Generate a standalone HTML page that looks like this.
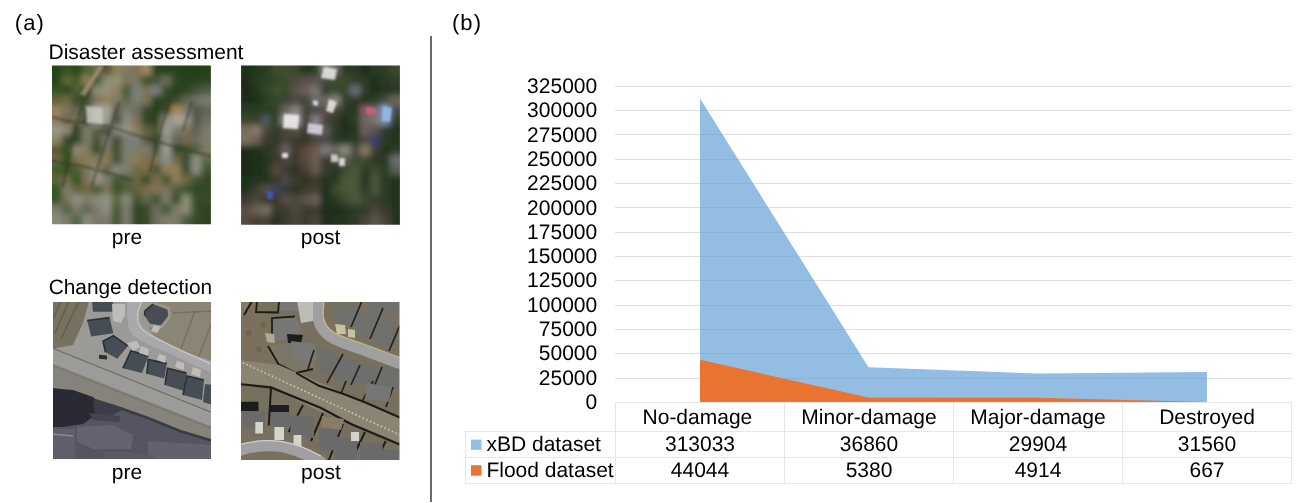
<!DOCTYPE html>
<html><head><meta charset="utf-8"><title>Figure</title>
<style>
html,body{margin:0;padding:0;background:#fff;width:1299px;height:503px;overflow:hidden}
svg{position:absolute;left:0;top:0;display:block;will-change:transform}
text{font-family:"Liberation Sans",Arial,sans-serif;font-size:21px;fill:#000;text-rendering:geometricPrecision}
</style></head><body>
<svg width="1299" height="503" viewBox="0 0 1299 503">
<defs><filter id="soft" x="-5%" y="-5%" width="110%" height="110%"><feGaussianBlur stdDeviation="0.7"/></filter><filter id="soft2" x="-5%" y="-5%" width="110%" height="110%"><feGaussianBlur stdDeviation="1.1"/></filter></defs>
<!-- panel (a) -->
<text x="14.85" y="29.7" style="font-size:22px;letter-spacing:1.1px">(a)</text>
<text x="48.5" y="58.5">Disaster assessment</text>
<g id="img1"><filter id="bl1" x="-20%" y="-20%" width="140%" height="140%"><feGaussianBlur stdDeviation="3.2"/></filter>
<clipPath id="c1"><rect x="52" y="65.5" width="158.9" height="158.7"/></clipPath>
<g clip-path="url(#c1)"><g filter="url(#bl1)">
<rect x="40.00" y="53.50" width="22.43" height="22.42" fill="#234616"/>
<rect x="61.93" y="53.50" width="10.43" height="22.42" fill="#31551e"/>
<rect x="71.86" y="53.50" width="10.43" height="22.42" fill="#27461a"/>
<rect x="81.79" y="53.50" width="10.43" height="22.42" fill="#506234"/>
<rect x="91.72" y="53.50" width="10.43" height="22.42" fill="#6f6f4a"/>
<rect x="101.66" y="53.50" width="10.43" height="22.42" fill="#525235"/>
<rect x="111.59" y="53.50" width="10.43" height="22.42" fill="#8e8057"/>
<rect x="121.52" y="53.50" width="10.43" height="22.42" fill="#7c7c60"/>
<rect x="131.45" y="53.50" width="10.43" height="22.42" fill="#7d7258"/>
<rect x="141.38" y="53.50" width="10.43" height="22.42" fill="#a18a5c"/>
<rect x="151.31" y="53.50" width="10.43" height="22.42" fill="#27411c"/>
<rect x="161.24" y="53.50" width="10.43" height="22.42" fill="#23401a"/>
<rect x="171.18" y="53.50" width="10.43" height="22.42" fill="#27431e"/>
<rect x="181.11" y="53.50" width="10.43" height="22.42" fill="#234018"/>
<rect x="191.04" y="53.50" width="10.43" height="22.42" fill="#234018"/>
<rect x="200.97" y="53.50" width="22.43" height="22.42" fill="#27431c"/>
<rect x="40.00" y="75.42" width="22.43" height="10.42" fill="#234418"/>
<rect x="61.93" y="75.42" width="10.43" height="10.42" fill="#61653b"/>
<rect x="71.86" y="75.42" width="10.43" height="10.42" fill="#425827"/>
<rect x="81.79" y="75.42" width="10.43" height="10.42" fill="#8e825c"/>
<rect x="91.72" y="75.42" width="10.43" height="10.42" fill="#415330"/>
<rect x="101.66" y="75.42" width="10.43" height="10.42" fill="#8c8c75"/>
<rect x="111.59" y="75.42" width="10.43" height="10.42" fill="#92927a"/>
<rect x="121.52" y="75.42" width="10.43" height="10.42" fill="#7d725a"/>
<rect x="131.45" y="75.42" width="10.43" height="10.42" fill="#7c7660"/>
<rect x="141.38" y="75.42" width="10.43" height="10.42" fill="#364a27"/>
<rect x="151.31" y="75.42" width="10.43" height="10.42" fill="#455235"/>
<rect x="161.24" y="75.42" width="10.43" height="10.42" fill="#6d6d5c"/>
<rect x="171.18" y="75.42" width="10.43" height="10.42" fill="#2d4322"/>
<rect x="181.11" y="75.42" width="10.43" height="10.42" fill="#23401a"/>
<rect x="191.04" y="75.42" width="10.43" height="10.42" fill="#27411e"/>
<rect x="200.97" y="75.42" width="22.43" height="10.42" fill="#2d4322"/>
<rect x="40.00" y="85.34" width="22.43" height="10.42" fill="#31551e"/>
<rect x="61.93" y="85.34" width="10.43" height="10.42" fill="#27461a"/>
<rect x="71.86" y="85.34" width="10.43" height="10.42" fill="#515e34"/>
<rect x="81.79" y="85.34" width="10.43" height="10.42" fill="#324825"/>
<rect x="91.72" y="85.34" width="10.43" height="10.42" fill="#8c8c75"/>
<rect x="101.66" y="85.34" width="10.43" height="10.42" fill="#92927a"/>
<rect x="111.59" y="85.34" width="10.43" height="10.42" fill="#8e8163"/>
<rect x="121.52" y="85.34" width="10.43" height="10.42" fill="#41592d"/>
<rect x="131.45" y="85.34" width="10.43" height="10.42" fill="#798176"/>
<rect x="141.38" y="85.34" width="10.43" height="10.42" fill="#7d7258"/>
<rect x="151.31" y="85.34" width="10.43" height="10.42" fill="#788080"/>
<rect x="161.24" y="85.34" width="10.43" height="10.42" fill="#324825"/>
<rect x="171.18" y="85.34" width="10.43" height="10.42" fill="#27411e"/>
<rect x="181.11" y="85.34" width="10.43" height="10.42" fill="#2d4322"/>
<rect x="191.04" y="85.34" width="10.43" height="10.42" fill="#405235"/>
<rect x="200.97" y="85.34" width="22.43" height="10.42" fill="#4f5a44"/>
<rect x="40.00" y="95.26" width="22.43" height="10.42" fill="#61613c"/>
<rect x="61.93" y="95.26" width="10.43" height="10.42" fill="#706946"/>
<rect x="71.86" y="95.26" width="10.43" height="10.42" fill="#324823"/>
<rect x="81.79" y="95.26" width="10.43" height="10.42" fill="#41532e"/>
<rect x="91.72" y="95.26" width="10.43" height="10.42" fill="#7d7258"/>
<rect x="101.66" y="95.26" width="10.43" height="10.42" fill="#957b55"/>
<rect x="111.59" y="95.26" width="10.43" height="10.42" fill="#7c7c69"/>
<rect x="121.52" y="95.26" width="10.43" height="10.42" fill="#5f654b"/>
<rect x="131.45" y="95.26" width="10.43" height="10.42" fill="#797e76"/>
<rect x="141.38" y="95.26" width="10.43" height="10.42" fill="#7e7354"/>
<rect x="151.31" y="95.26" width="10.43" height="10.42" fill="#27411e"/>
<rect x="161.24" y="95.26" width="10.43" height="10.42" fill="#2d4322"/>
<rect x="171.18" y="95.26" width="10.43" height="10.42" fill="#324825"/>
<rect x="181.11" y="95.26" width="10.43" height="10.42" fill="#5e6351"/>
<rect x="191.04" y="95.26" width="10.43" height="10.42" fill="#6c7261"/>
<rect x="200.97" y="95.26" width="22.43" height="10.42" fill="#7b7b6f"/>
<rect x="40.00" y="105.17" width="22.43" height="10.42" fill="#96825a"/>
<rect x="61.93" y="105.17" width="10.43" height="10.42" fill="#7d7258"/>
<rect x="71.86" y="105.17" width="10.43" height="10.42" fill="#5f634b"/>
<rect x="81.79" y="105.17" width="10.43" height="10.42" fill="#51573d"/>
<rect x="91.72" y="105.17" width="10.43" height="10.42" fill="#acac9f"/>
<rect x="101.66" y="105.17" width="10.43" height="10.42" fill="#a5a598"/>
<rect x="111.59" y="105.17" width="10.43" height="10.42" fill="#5f5f4d"/>
<rect x="121.52" y="105.17" width="10.43" height="10.42" fill="#7b7b6f"/>
<rect x="131.45" y="105.17" width="10.43" height="10.42" fill="#6d6d5a"/>
<rect x="141.38" y="105.17" width="10.43" height="10.42" fill="#334425"/>
<rect x="151.31" y="105.17" width="10.43" height="10.42" fill="#273f1c"/>
<rect x="161.24" y="105.17" width="10.43" height="10.42" fill="#324825"/>
<rect x="171.18" y="105.17" width="10.43" height="10.42" fill="#ab8859"/>
<rect x="181.11" y="105.17" width="10.43" height="10.42" fill="#7b7b6f"/>
<rect x="191.04" y="105.17" width="10.43" height="10.42" fill="#505645"/>
<rect x="200.97" y="105.17" width="22.43" height="10.42" fill="#5e6453"/>
<rect x="40.00" y="115.09" width="22.43" height="10.42" fill="#8e7b5c"/>
<rect x="61.93" y="115.09" width="10.43" height="10.42" fill="#6f644a"/>
<rect x="71.86" y="115.09" width="10.43" height="10.42" fill="#7d7258"/>
<rect x="81.79" y="115.09" width="10.43" height="10.42" fill="#424731"/>
<rect x="91.72" y="115.09" width="10.43" height="10.42" fill="#b3b3a5"/>
<rect x="101.66" y="115.09" width="10.43" height="10.42" fill="#9e9e91"/>
<rect x="111.59" y="115.09" width="10.43" height="10.42" fill="#424837"/>
<rect x="121.52" y="115.09" width="10.43" height="10.42" fill="#8a8a7c"/>
<rect x="131.45" y="115.09" width="10.43" height="10.42" fill="#7d7258"/>
<rect x="141.38" y="115.09" width="10.43" height="10.42" fill="#2d4322"/>
<rect x="151.31" y="115.09" width="10.43" height="10.42" fill="#2d4322"/>
<rect x="161.24" y="115.09" width="10.43" height="10.42" fill="#8f8f83"/>
<rect x="171.18" y="115.09" width="10.43" height="10.42" fill="#a5a598"/>
<rect x="181.11" y="115.09" width="10.43" height="10.42" fill="#9e9e91"/>
<rect x="191.04" y="115.09" width="10.43" height="10.42" fill="#505645"/>
<rect x="200.97" y="115.09" width="22.43" height="10.42" fill="#6d6d5f"/>
<rect x="40.00" y="125.01" width="22.43" height="10.42" fill="#96968a"/>
<rect x="61.93" y="125.01" width="10.43" height="10.42" fill="#8d8a73"/>
<rect x="71.86" y="125.01" width="10.43" height="10.42" fill="#324427"/>
<rect x="81.79" y="125.01" width="10.43" height="10.42" fill="#7c7c69"/>
<rect x="91.72" y="125.01" width="10.43" height="10.42" fill="#5f5f4d"/>
<rect x="101.66" y="125.01" width="10.43" height="10.42" fill="#424837"/>
<rect x="111.59" y="125.01" width="10.43" height="10.42" fill="#8a8a7c"/>
<rect x="121.52" y="125.01" width="10.43" height="10.42" fill="#96968a"/>
<rect x="131.45" y="125.01" width="10.43" height="10.42" fill="#8e7c57"/>
<rect x="141.38" y="125.01" width="10.43" height="10.42" fill="#606044"/>
<rect x="151.31" y="125.01" width="10.43" height="10.42" fill="#41532e"/>
<rect x="161.24" y="125.01" width="10.43" height="10.42" fill="#9e9e91"/>
<rect x="171.18" y="125.01" width="10.43" height="10.42" fill="#7b7b6f"/>
<rect x="181.11" y="125.01" width="10.43" height="10.42" fill="#7d7258"/>
<rect x="191.04" y="125.01" width="10.43" height="10.42" fill="#5e6453"/>
<rect x="200.97" y="125.01" width="22.43" height="10.42" fill="#7b7b6f"/>
<rect x="40.00" y="134.93" width="22.43" height="10.42" fill="#8e866a"/>
<rect x="61.93" y="134.93" width="10.43" height="10.42" fill="#334425"/>
<rect x="71.86" y="134.93" width="10.43" height="10.42" fill="#324427"/>
<rect x="81.79" y="134.93" width="10.43" height="10.42" fill="#7c7c69"/>
<rect x="91.72" y="134.93" width="10.43" height="10.42" fill="#415330"/>
<rect x="101.66" y="134.93" width="10.43" height="10.42" fill="#7b7b6f"/>
<rect x="111.59" y="134.93" width="10.43" height="10.42" fill="#424837"/>
<rect x="121.52" y="134.93" width="10.43" height="10.42" fill="#7b7b6f"/>
<rect x="131.45" y="134.93" width="10.43" height="10.42" fill="#788080"/>
<rect x="141.38" y="134.93" width="10.43" height="10.42" fill="#605a44"/>
<rect x="151.31" y="134.93" width="10.43" height="10.42" fill="#324427"/>
<rect x="161.24" y="134.93" width="10.43" height="10.42" fill="#8f8f83"/>
<rect x="171.18" y="134.93" width="10.43" height="10.42" fill="#5e6453"/>
<rect x="181.11" y="134.93" width="10.43" height="10.42" fill="#6f694a"/>
<rect x="191.04" y="134.93" width="10.43" height="10.42" fill="#6c6c61"/>
<rect x="200.97" y="134.93" width="22.43" height="10.42" fill="#7b7b6f"/>
<rect x="40.00" y="144.85" width="22.43" height="10.42" fill="#515c34"/>
<rect x="61.93" y="144.85" width="10.43" height="10.42" fill="#334b1f"/>
<rect x="71.86" y="144.85" width="10.43" height="10.42" fill="#8d8d73"/>
<rect x="81.79" y="144.85" width="10.43" height="10.42" fill="#7c7c60"/>
<rect x="91.72" y="144.85" width="10.43" height="10.42" fill="#334b1f"/>
<rect x="101.66" y="144.85" width="10.43" height="10.42" fill="#7c7860"/>
<rect x="111.59" y="144.85" width="10.43" height="10.42" fill="#415330"/>
<rect x="121.52" y="144.85" width="10.43" height="10.42" fill="#7a826e"/>
<rect x="131.45" y="144.85" width="10.43" height="10.42" fill="#7c7c67"/>
<rect x="141.38" y="144.85" width="10.43" height="10.42" fill="#7c7c69"/>
<rect x="151.31" y="144.85" width="10.43" height="10.42" fill="#51553d"/>
<rect x="161.24" y="144.85" width="10.43" height="10.42" fill="#9e9e91"/>
<rect x="171.18" y="144.85" width="10.43" height="10.42" fill="#324825"/>
<rect x="181.11" y="144.85" width="10.43" height="10.42" fill="#41532e"/>
<rect x="191.04" y="144.85" width="10.43" height="10.42" fill="#505d3c"/>
<rect x="200.97" y="144.85" width="22.43" height="10.42" fill="#7c7c60"/>
<rect x="40.00" y="154.77" width="22.43" height="10.42" fill="#706542"/>
<rect x="61.93" y="154.77" width="10.43" height="10.42" fill="#355422"/>
<rect x="71.86" y="154.77" width="10.43" height="10.42" fill="#7e7152"/>
<rect x="81.79" y="154.77" width="10.43" height="10.42" fill="#8e7c55"/>
<rect x="91.72" y="154.77" width="10.43" height="10.42" fill="#7c7c67"/>
<rect x="101.66" y="154.77" width="10.43" height="10.42" fill="#8e7c57"/>
<rect x="111.59" y="154.77" width="10.43" height="10.42" fill="#424b2e"/>
<rect x="121.52" y="154.77" width="10.43" height="10.42" fill="#7c7c69"/>
<rect x="131.45" y="154.77" width="10.43" height="10.42" fill="#8e7c55"/>
<rect x="141.38" y="154.77" width="10.43" height="10.42" fill="#7f6d4a"/>
<rect x="151.31" y="154.77" width="10.43" height="10.42" fill="#7d7258"/>
<rect x="161.24" y="154.77" width="10.43" height="10.42" fill="#868f8f"/>
<rect x="171.18" y="154.77" width="10.43" height="10.42" fill="#6f694a"/>
<rect x="181.11" y="154.77" width="10.43" height="10.42" fill="#324825"/>
<rect x="191.04" y="154.77" width="10.43" height="10.42" fill="#8f8f83"/>
<rect x="200.97" y="154.77" width="22.43" height="10.42" fill="#5f654b"/>
<rect x="40.00" y="164.69" width="22.43" height="10.42" fill="#425a25"/>
<rect x="61.93" y="164.69" width="10.43" height="10.42" fill="#31551e"/>
<rect x="71.86" y="164.69" width="10.43" height="10.42" fill="#515c34"/>
<rect x="81.79" y="164.69" width="10.43" height="10.42" fill="#7d7758"/>
<rect x="91.72" y="164.69" width="10.43" height="10.42" fill="#8d8d73"/>
<rect x="101.66" y="164.69" width="10.43" height="10.42" fill="#5f5f4b"/>
<rect x="111.59" y="164.69" width="10.43" height="10.42" fill="#8a8a7c"/>
<rect x="121.52" y="164.69" width="10.43" height="10.42" fill="#7a7f72"/>
<rect x="131.45" y="164.69" width="10.43" height="10.42" fill="#706946"/>
<rect x="141.38" y="164.69" width="10.43" height="10.42" fill="#7f6d4a"/>
<rect x="151.31" y="164.69" width="10.43" height="10.42" fill="#41532e"/>
<rect x="161.24" y="164.69" width="10.43" height="10.42" fill="#8e7c55"/>
<rect x="171.18" y="164.69" width="10.43" height="10.42" fill="#968056"/>
<rect x="181.11" y="164.69" width="10.43" height="10.42" fill="#324825"/>
<rect x="191.04" y="164.69" width="10.43" height="10.42" fill="#8f8f83"/>
<rect x="200.97" y="164.69" width="22.43" height="10.42" fill="#41532e"/>
<rect x="40.00" y="174.61" width="22.43" height="10.42" fill="#61653b"/>
<rect x="61.93" y="174.61" width="10.43" height="10.42" fill="#6f694a"/>
<rect x="71.86" y="174.61" width="10.43" height="10.42" fill="#355422"/>
<rect x="81.79" y="174.61" width="10.43" height="10.42" fill="#7d7258"/>
<rect x="91.72" y="174.61" width="10.43" height="10.42" fill="#96968a"/>
<rect x="101.66" y="174.61" width="10.43" height="10.42" fill="#7c7c69"/>
<rect x="111.59" y="174.61" width="10.43" height="10.42" fill="#41572d"/>
<rect x="121.52" y="174.61" width="10.43" height="10.42" fill="#4f613c"/>
<rect x="131.45" y="174.61" width="10.43" height="10.42" fill="#706542"/>
<rect x="141.38" y="174.61" width="10.43" height="10.42" fill="#364a27"/>
<rect x="151.31" y="174.61" width="10.43" height="10.42" fill="#7f6d4a"/>
<rect x="161.24" y="174.61" width="10.43" height="10.42" fill="#41532e"/>
<rect x="171.18" y="174.61" width="10.43" height="10.42" fill="#8e7c55"/>
<rect x="181.11" y="174.61" width="10.43" height="10.42" fill="#706946"/>
<rect x="191.04" y="174.61" width="10.43" height="10.42" fill="#415330"/>
<rect x="200.97" y="174.61" width="22.43" height="10.42" fill="#364a27"/>
<rect x="40.00" y="184.52" width="22.43" height="10.42" fill="#355422"/>
<rect x="61.93" y="184.52" width="10.43" height="10.42" fill="#7c7c67"/>
<rect x="71.86" y="184.52" width="10.43" height="10.42" fill="#61653b"/>
<rect x="81.79" y="184.52" width="10.43" height="10.42" fill="#706946"/>
<rect x="91.72" y="184.52" width="10.43" height="10.42" fill="#415729"/>
<rect x="101.66" y="184.52" width="10.43" height="10.42" fill="#7d725a"/>
<rect x="111.59" y="184.52" width="10.43" height="10.42" fill="#355422"/>
<rect x="121.52" y="184.52" width="10.43" height="10.42" fill="#4f613c"/>
<rect x="131.45" y="184.52" width="10.43" height="10.42" fill="#61613c"/>
<rect x="141.38" y="184.52" width="10.43" height="10.42" fill="#7f6d4a"/>
<rect x="151.31" y="184.52" width="10.43" height="10.42" fill="#7d7258"/>
<rect x="161.24" y="184.52" width="10.43" height="10.42" fill="#7d725a"/>
<rect x="171.18" y="184.52" width="10.43" height="10.42" fill="#505b3c"/>
<rect x="181.11" y="184.52" width="10.43" height="10.42" fill="#41532e"/>
<rect x="191.04" y="184.52" width="10.43" height="10.42" fill="#324825"/>
<rect x="200.97" y="184.52" width="22.43" height="10.42" fill="#364a27"/>
<rect x="40.00" y="194.44" width="22.43" height="10.42" fill="#355422"/>
<rect x="61.93" y="194.44" width="10.43" height="10.42" fill="#7d7458"/>
<rect x="71.86" y="194.44" width="10.43" height="10.42" fill="#8f8f83"/>
<rect x="81.79" y="194.44" width="10.43" height="10.42" fill="#7c7c69"/>
<rect x="91.72" y="194.44" width="10.43" height="10.42" fill="#8a8a7c"/>
<rect x="101.66" y="194.44" width="10.43" height="10.42" fill="#8f8f83"/>
<rect x="111.59" y="194.44" width="10.43" height="10.42" fill="#5f6643"/>
<rect x="121.52" y="194.44" width="10.43" height="10.42" fill="#8a8a7c"/>
<rect x="131.45" y="194.44" width="10.43" height="10.42" fill="#41532e"/>
<rect x="141.38" y="194.44" width="10.43" height="10.42" fill="#5f654b"/>
<rect x="151.31" y="194.44" width="10.43" height="10.42" fill="#41532e"/>
<rect x="161.24" y="194.44" width="10.43" height="10.42" fill="#7c7c67"/>
<rect x="171.18" y="194.44" width="10.43" height="10.42" fill="#324825"/>
<rect x="181.11" y="194.44" width="10.43" height="10.42" fill="#8c8c75"/>
<rect x="191.04" y="194.44" width="10.43" height="10.42" fill="#364a27"/>
<rect x="200.97" y="194.44" width="22.43" height="10.42" fill="#364a27"/>
<rect x="40.00" y="204.36" width="22.43" height="10.42" fill="#7c7c69"/>
<rect x="61.93" y="204.36" width="10.43" height="10.42" fill="#4f613c"/>
<rect x="71.86" y="204.36" width="10.43" height="10.42" fill="#7c7c67"/>
<rect x="81.79" y="204.36" width="10.43" height="10.42" fill="#5f634d"/>
<rect x="91.72" y="204.36" width="10.43" height="10.42" fill="#7c7c69"/>
<rect x="101.66" y="204.36" width="10.43" height="10.42" fill="#8f8f83"/>
<rect x="111.59" y="204.36" width="10.43" height="10.42" fill="#41572d"/>
<rect x="121.52" y="204.36" width="10.43" height="10.42" fill="#7b7b6d"/>
<rect x="131.45" y="204.36" width="10.43" height="10.42" fill="#2d4322"/>
<rect x="141.38" y="204.36" width="10.43" height="10.42" fill="#364a27"/>
<rect x="151.31" y="204.36" width="10.43" height="10.42" fill="#6d6d5a"/>
<rect x="161.24" y="204.36" width="10.43" height="10.42" fill="#41532e"/>
<rect x="171.18" y="204.36" width="10.43" height="10.42" fill="#7c7c69"/>
<rect x="181.11" y="204.36" width="10.43" height="10.42" fill="#8c8c75"/>
<rect x="191.04" y="204.36" width="10.43" height="10.42" fill="#364a27"/>
<rect x="200.97" y="204.36" width="22.43" height="10.42" fill="#2d4322"/>
<rect x="40.00" y="214.28" width="22.43" height="22.42" fill="#8a8a7c"/>
<rect x="61.93" y="214.28" width="10.43" height="22.42" fill="#7c7c69"/>
<rect x="71.86" y="214.28" width="10.43" height="22.42" fill="#4f613c"/>
<rect x="81.79" y="214.28" width="10.43" height="22.42" fill="#8a8a7c"/>
<rect x="91.72" y="214.28" width="10.43" height="22.42" fill="#7c7860"/>
<rect x="101.66" y="214.28" width="10.43" height="22.42" fill="#7c7c69"/>
<rect x="111.59" y="214.28" width="10.43" height="22.42" fill="#41572d"/>
<rect x="121.52" y="214.28" width="10.43" height="22.42" fill="#7b7b6d"/>
<rect x="131.45" y="214.28" width="10.43" height="22.42" fill="#2d4322"/>
<rect x="141.38" y="214.28" width="10.43" height="22.42" fill="#364a27"/>
<rect x="151.31" y="214.28" width="10.43" height="22.42" fill="#6d6d5a"/>
<rect x="161.24" y="214.28" width="10.43" height="22.42" fill="#7c7c69"/>
<rect x="171.18" y="214.28" width="10.43" height="22.42" fill="#7c7c69"/>
<rect x="181.11" y="214.28" width="10.43" height="22.42" fill="#505b3c"/>
<rect x="191.04" y="214.28" width="10.43" height="22.42" fill="#364a27"/>
<rect x="200.97" y="214.28" width="22.43" height="22.42" fill="#2d4322"/>
</g>
<g transform="translate(52,66)" filter="url(#soft2)">
<g stroke="#2c3422" stroke-width="2.8" fill="none" opacity="0.42" stroke-linecap="round">
<polyline points="52,0 45,10 38,22 31,36 27,50 23,64 19,80 15,100 11,120"/>
<polyline points="0,51 16,55.5 32,56 51,59 67,63.5 80,68 100,74 120,80 158,90"/>
<polyline points="67,36.6 59,60.4 52.5,80 46,100 40,120"/>
<polyline points="118.7,31.8 111,56 104.4,80 98,105"/>
<polyline points="139.4,36.6 131.5,63.6"/>
<polyline points="0,95 30,100 60,108 80,114"/>
</g>
<g opacity="0.8">
<polygon points="47,0 52,0 33,30 28,28" fill="#a49474"/>
<polygon points="34,40 50,42 51,58 35,57" fill="#c8c8c2"/>
</g>
</g>

</g></g><!--/img1-->
<g id="img2"><filter id="bl2" x="-20%" y="-20%" width="140%" height="140%"><feGaussianBlur stdDeviation="3.0"/></filter>
<clipPath id="c2"><rect x="241.1" y="65.5" width="158.8" height="159.2"/></clipPath>
<g clip-path="url(#c2)"><g filter="url(#bl2)">
<rect x="229.10" y="53.50" width="22.43" height="22.45" fill="#1e3018"/>
<rect x="251.03" y="53.50" width="10.43" height="22.45" fill="#24381e"/>
<rect x="260.95" y="53.50" width="10.43" height="22.45" fill="#2a3e22"/>
<rect x="270.88" y="53.50" width="10.43" height="22.45" fill="#3a4c2e"/>
<rect x="280.80" y="53.50" width="10.43" height="22.45" fill="#3e5030"/>
<rect x="290.73" y="53.50" width="10.43" height="22.45" fill="#3a4a2c"/>
<rect x="300.65" y="53.50" width="10.43" height="22.45" fill="#22381c"/>
<rect x="310.57" y="53.50" width="10.43" height="22.45" fill="#2a3e22"/>
<rect x="320.50" y="53.50" width="10.43" height="22.45" fill="#8a8a88"/>
<rect x="330.43" y="53.50" width="10.43" height="22.45" fill="#6a6a60"/>
<rect x="340.35" y="53.50" width="10.43" height="22.45" fill="#2a3a22"/>
<rect x="350.27" y="53.50" width="10.43" height="22.45" fill="#2a3a22"/>
<rect x="360.20" y="53.50" width="10.43" height="22.45" fill="#1e2e1a"/>
<rect x="370.12" y="53.50" width="10.43" height="22.45" fill="#2a3a22"/>
<rect x="380.05" y="53.50" width="10.43" height="22.45" fill="#2e3e24"/>
<rect x="389.98" y="53.50" width="22.43" height="22.45" fill="#3a4a2c"/>
<rect x="229.10" y="75.45" width="22.43" height="10.45" fill="#1a2c16"/>
<rect x="251.03" y="75.45" width="10.43" height="10.45" fill="#223a1c"/>
<rect x="260.95" y="75.45" width="10.43" height="10.45" fill="#2a4222"/>
<rect x="270.88" y="75.45" width="10.43" height="10.45" fill="#2e4a24"/>
<rect x="280.80" y="75.45" width="10.43" height="10.45" fill="#3a4a2c"/>
<rect x="290.73" y="75.45" width="10.43" height="10.45" fill="#4a4a3c"/>
<rect x="300.65" y="75.45" width="10.43" height="10.45" fill="#5a5048"/>
<rect x="310.57" y="75.45" width="10.43" height="10.45" fill="#5a544c"/>
<rect x="320.50" y="75.45" width="10.43" height="10.45" fill="#4a4a3c"/>
<rect x="330.43" y="75.45" width="10.43" height="10.45" fill="#3a4830"/>
<rect x="340.35" y="75.45" width="10.43" height="10.45" fill="#3a4a2c"/>
<rect x="350.27" y="75.45" width="10.43" height="10.45" fill="#2e3e26"/>
<rect x="360.20" y="75.45" width="10.43" height="10.45" fill="#2a3a22"/>
<rect x="370.12" y="75.45" width="10.43" height="10.45" fill="#1e2e1a"/>
<rect x="380.05" y="75.45" width="10.43" height="10.45" fill="#2a3a22"/>
<rect x="389.98" y="75.45" width="22.43" height="10.45" fill="#2e3e26"/>
<rect x="229.10" y="85.40" width="22.43" height="10.45" fill="#1a2c16"/>
<rect x="251.03" y="85.40" width="10.43" height="10.45" fill="#22361c"/>
<rect x="260.95" y="85.40" width="10.43" height="10.45" fill="#2e4426"/>
<rect x="270.88" y="85.40" width="10.43" height="10.45" fill="#3e4e30"/>
<rect x="280.80" y="85.40" width="10.43" height="10.45" fill="#3a4a2c"/>
<rect x="290.73" y="85.40" width="10.43" height="10.45" fill="#5a5248"/>
<rect x="300.65" y="85.40" width="10.43" height="10.45" fill="#6a6058"/>
<rect x="310.57" y="85.40" width="10.43" height="10.45" fill="#7a7478"/>
<rect x="320.50" y="85.40" width="10.43" height="10.45" fill="#2e3e26"/>
<rect x="330.43" y="85.40" width="10.43" height="10.45" fill="#3a4a2c"/>
<rect x="340.35" y="85.40" width="10.43" height="10.45" fill="#34442a"/>
<rect x="350.27" y="85.40" width="10.43" height="10.45" fill="#6a7078"/>
<rect x="360.20" y="85.40" width="10.43" height="10.45" fill="#2a3a22"/>
<rect x="370.12" y="85.40" width="10.43" height="10.45" fill="#1e2e1a"/>
<rect x="380.05" y="85.40" width="10.43" height="10.45" fill="#24341e"/>
<rect x="389.98" y="85.40" width="22.43" height="10.45" fill="#2a3a22"/>
<rect x="229.10" y="95.35" width="22.43" height="10.45" fill="#1a2e18"/>
<rect x="251.03" y="95.35" width="10.43" height="10.45" fill="#1e3018"/>
<rect x="260.95" y="95.35" width="10.43" height="10.45" fill="#2a3e22"/>
<rect x="270.88" y="95.35" width="10.43" height="10.45" fill="#34462a"/>
<rect x="280.80" y="95.35" width="10.43" height="10.45" fill="#3a4430"/>
<rect x="290.73" y="95.35" width="10.43" height="10.45" fill="#4a4a40"/>
<rect x="300.65" y="95.35" width="10.43" height="10.45" fill="#3e4436"/>
<rect x="310.57" y="95.35" width="10.43" height="10.45" fill="#6a6a68"/>
<rect x="320.50" y="95.35" width="10.43" height="10.45" fill="#6a6a60"/>
<rect x="330.43" y="95.35" width="10.43" height="10.45" fill="#8a8880"/>
<rect x="340.35" y="95.35" width="10.43" height="10.45" fill="#2e3e26"/>
<rect x="350.27" y="95.35" width="10.43" height="10.45" fill="#2a3a22"/>
<rect x="360.20" y="95.35" width="10.43" height="10.45" fill="#24341e"/>
<rect x="370.12" y="95.35" width="10.43" height="10.45" fill="#2a3a22"/>
<rect x="380.05" y="95.35" width="10.43" height="10.45" fill="#4a4a40"/>
<rect x="389.98" y="95.35" width="22.43" height="10.45" fill="#6a6658"/>
<rect x="229.10" y="105.30" width="22.43" height="10.45" fill="#2a3a24"/>
<rect x="251.03" y="105.30" width="10.43" height="10.45" fill="#2a3a22"/>
<rect x="260.95" y="105.30" width="10.43" height="10.45" fill="#2a3e24"/>
<rect x="270.88" y="105.30" width="10.43" height="10.45" fill="#2e4028"/>
<rect x="280.80" y="105.30" width="10.43" height="10.45" fill="#6a645a"/>
<rect x="290.73" y="105.30" width="10.43" height="10.45" fill="#8a8480"/>
<rect x="300.65" y="105.30" width="10.43" height="10.45" fill="#3e4230"/>
<rect x="310.57" y="105.30" width="10.43" height="10.45" fill="#4a4a40"/>
<rect x="320.50" y="105.30" width="10.43" height="10.45" fill="#5a5048"/>
<rect x="330.43" y="105.30" width="10.43" height="10.45" fill="#4a4438"/>
<rect x="340.35" y="105.30" width="10.43" height="10.45" fill="#2a3a22"/>
<rect x="350.27" y="105.30" width="10.43" height="10.45" fill="#24341e"/>
<rect x="360.20" y="105.30" width="10.43" height="10.45" fill="#8a5a68"/>
<rect x="370.12" y="105.30" width="10.43" height="10.45" fill="#6a6a68"/>
<rect x="380.05" y="105.30" width="10.43" height="10.45" fill="#8aa0c0"/>
<rect x="389.98" y="105.30" width="22.43" height="10.45" fill="#4a4a44"/>
<rect x="229.10" y="115.25" width="22.43" height="10.45" fill="#3a4430"/>
<rect x="251.03" y="115.25" width="10.43" height="10.45" fill="#34402a"/>
<rect x="260.95" y="115.25" width="10.43" height="10.45" fill="#4a5a60"/>
<rect x="270.88" y="115.25" width="10.43" height="10.45" fill="#2e3e26"/>
<rect x="280.80" y="115.25" width="10.43" height="10.45" fill="#9a9690"/>
<rect x="290.73" y="115.25" width="10.43" height="10.45" fill="#a8a8a8"/>
<rect x="300.65" y="115.25" width="10.43" height="10.45" fill="#3a3a30"/>
<rect x="310.57" y="115.25" width="10.43" height="10.45" fill="#8a8488"/>
<rect x="320.50" y="115.25" width="10.43" height="10.45" fill="#4a4038"/>
<rect x="330.43" y="115.25" width="10.43" height="10.45" fill="#2e3a26"/>
<rect x="340.35" y="115.25" width="10.43" height="10.45" fill="#1e2e1a"/>
<rect x="350.27" y="115.25" width="10.43" height="10.45" fill="#2a3a22"/>
<rect x="360.20" y="115.25" width="10.43" height="10.45" fill="#6a6660"/>
<rect x="370.12" y="115.25" width="10.43" height="10.45" fill="#7a7470"/>
<rect x="380.05" y="115.25" width="10.43" height="10.45" fill="#7a90b0"/>
<rect x="389.98" y="115.25" width="22.43" height="10.45" fill="#2e3e26"/>
<rect x="229.10" y="125.20" width="22.43" height="10.45" fill="#7a6a58"/>
<rect x="251.03" y="125.20" width="10.43" height="10.45" fill="#8a7a68"/>
<rect x="260.95" y="125.20" width="10.43" height="10.45" fill="#4a4a38"/>
<rect x="270.88" y="125.20" width="10.43" height="10.45" fill="#2e3a26"/>
<rect x="280.80" y="125.20" width="10.43" height="10.45" fill="#4a4438"/>
<rect x="290.73" y="125.20" width="10.43" height="10.45" fill="#5a5044"/>
<rect x="300.65" y="125.20" width="10.43" height="10.45" fill="#3e3e30"/>
<rect x="310.57" y="125.20" width="10.43" height="10.45" fill="#6a6468"/>
<rect x="320.50" y="125.20" width="10.43" height="10.45" fill="#5a5a58"/>
<rect x="330.43" y="125.20" width="10.43" height="10.45" fill="#2e3a26"/>
<rect x="340.35" y="125.20" width="10.43" height="10.45" fill="#1e2e1a"/>
<rect x="350.27" y="125.20" width="10.43" height="10.45" fill="#24341e"/>
<rect x="360.20" y="125.20" width="10.43" height="10.45" fill="#6a5e58"/>
<rect x="370.12" y="125.20" width="10.43" height="10.45" fill="#5a5048"/>
<rect x="380.05" y="125.20" width="10.43" height="10.45" fill="#2a3a22"/>
<rect x="389.98" y="125.20" width="22.43" height="10.45" fill="#24341e"/>
<rect x="229.10" y="135.15" width="22.43" height="10.45" fill="#7a6e60"/>
<rect x="251.03" y="135.15" width="10.43" height="10.45" fill="#6a6050"/>
<rect x="260.95" y="135.15" width="10.43" height="10.45" fill="#3a3a2c"/>
<rect x="270.88" y="135.15" width="10.43" height="10.45" fill="#2e3a26"/>
<rect x="280.80" y="135.15" width="10.43" height="10.45" fill="#4a4034"/>
<rect x="290.73" y="135.15" width="10.43" height="10.45" fill="#3a3a2e"/>
<rect x="300.65" y="135.15" width="10.43" height="10.45" fill="#2e3424"/>
<rect x="310.57" y="135.15" width="10.43" height="10.45" fill="#4a4438"/>
<rect x="320.50" y="135.15" width="10.43" height="10.45" fill="#4a4a48"/>
<rect x="330.43" y="135.15" width="10.43" height="10.45" fill="#2a3a22"/>
<rect x="340.35" y="135.15" width="10.43" height="10.45" fill="#24341e"/>
<rect x="350.27" y="135.15" width="10.43" height="10.45" fill="#2a3a22"/>
<rect x="360.20" y="135.15" width="10.43" height="10.45" fill="#4a4a40"/>
<rect x="370.12" y="135.15" width="10.43" height="10.45" fill="#3a3a6a"/>
<rect x="380.05" y="135.15" width="10.43" height="10.45" fill="#2a3a22"/>
<rect x="389.98" y="135.15" width="22.43" height="10.45" fill="#24341e"/>
<rect x="229.10" y="145.10" width="22.43" height="10.45" fill="#1a2a16"/>
<rect x="251.03" y="145.10" width="10.43" height="10.45" fill="#1e3018"/>
<rect x="260.95" y="145.10" width="10.43" height="10.45" fill="#2a3420"/>
<rect x="270.88" y="145.10" width="10.43" height="10.45" fill="#3a3a2c"/>
<rect x="280.80" y="145.10" width="10.43" height="10.45" fill="#6a6060"/>
<rect x="290.73" y="145.10" width="10.43" height="10.45" fill="#3a3a2e"/>
<rect x="300.65" y="145.10" width="10.43" height="10.45" fill="#5a4a3a"/>
<rect x="310.57" y="145.10" width="10.43" height="10.45" fill="#6a5a48"/>
<rect x="320.50" y="145.10" width="10.43" height="10.45" fill="#7a7a80"/>
<rect x="330.43" y="145.10" width="10.43" height="10.45" fill="#6a6858"/>
<rect x="340.35" y="145.10" width="10.43" height="10.45" fill="#8a8a80"/>
<rect x="350.27" y="145.10" width="10.43" height="10.45" fill="#4a4a3e"/>
<rect x="360.20" y="145.10" width="10.43" height="10.45" fill="#8a7a60"/>
<rect x="370.12" y="145.10" width="10.43" height="10.45" fill="#3a4030"/>
<rect x="380.05" y="145.10" width="10.43" height="10.45" fill="#24341e"/>
<rect x="389.98" y="145.10" width="22.43" height="10.45" fill="#2a3a22"/>
<rect x="229.10" y="155.05" width="22.43" height="10.45" fill="#1a2a16"/>
<rect x="251.03" y="155.05" width="10.43" height="10.45" fill="#1e3018"/>
<rect x="260.95" y="155.05" width="10.43" height="10.45" fill="#24341e"/>
<rect x="270.88" y="155.05" width="10.43" height="10.45" fill="#3a3a2c"/>
<rect x="280.80" y="155.05" width="10.43" height="10.45" fill="#4a4a40"/>
<rect x="290.73" y="155.05" width="10.43" height="10.45" fill="#3a3a2a"/>
<rect x="300.65" y="155.05" width="10.43" height="10.45" fill="#5a4c3e"/>
<rect x="310.57" y="155.05" width="10.43" height="10.45" fill="#6a5e50"/>
<rect x="320.50" y="155.05" width="10.43" height="10.45" fill="#3a3a30"/>
<rect x="330.43" y="155.05" width="10.43" height="10.45" fill="#4a4a40"/>
<rect x="340.35" y="155.05" width="10.43" height="10.45" fill="#5a5a50"/>
<rect x="350.27" y="155.05" width="10.43" height="10.45" fill="#3e4a30"/>
<rect x="360.20" y="155.05" width="10.43" height="10.45" fill="#3e4a32"/>
<rect x="370.12" y="155.05" width="10.43" height="10.45" fill="#2a3a22"/>
<rect x="380.05" y="155.05" width="10.43" height="10.45" fill="#2a3a22"/>
<rect x="389.98" y="155.05" width="22.43" height="10.45" fill="#6a6e70"/>
<rect x="229.10" y="165.00" width="22.43" height="10.45" fill="#1a2c16"/>
<rect x="251.03" y="165.00" width="10.43" height="10.45" fill="#1e3018"/>
<rect x="260.95" y="165.00" width="10.43" height="10.45" fill="#24341e"/>
<rect x="270.88" y="165.00" width="10.43" height="10.45" fill="#5a4a3a"/>
<rect x="280.80" y="165.00" width="10.43" height="10.45" fill="#3a3a2c"/>
<rect x="290.73" y="165.00" width="10.43" height="10.45" fill="#2e3424"/>
<rect x="300.65" y="165.00" width="10.43" height="10.45" fill="#4a4034"/>
<rect x="310.57" y="165.00" width="10.43" height="10.45" fill="#6a5a4c"/>
<rect x="320.50" y="165.00" width="10.43" height="10.45" fill="#3a3a2e"/>
<rect x="330.43" y="165.00" width="10.43" height="10.45" fill="#24341e"/>
<rect x="340.35" y="165.00" width="10.43" height="10.45" fill="#3e4a30"/>
<rect x="350.27" y="165.00" width="10.43" height="10.45" fill="#4a5638"/>
<rect x="360.20" y="165.00" width="10.43" height="10.45" fill="#2a3a22"/>
<rect x="370.12" y="165.00" width="10.43" height="10.45" fill="#3e4a30"/>
<rect x="380.05" y="165.00" width="10.43" height="10.45" fill="#2a3a22"/>
<rect x="389.98" y="165.00" width="22.43" height="10.45" fill="#5a5e58"/>
<rect x="229.10" y="174.95" width="22.43" height="10.45" fill="#1e3018"/>
<rect x="251.03" y="174.95" width="10.43" height="10.45" fill="#22341c"/>
<rect x="260.95" y="174.95" width="10.43" height="10.45" fill="#24341e"/>
<rect x="270.88" y="174.95" width="10.43" height="10.45" fill="#3a3a2c"/>
<rect x="280.80" y="174.95" width="10.43" height="10.45" fill="#4a4a48"/>
<rect x="290.73" y="174.95" width="10.43" height="10.45" fill="#3a3a2c"/>
<rect x="300.65" y="174.95" width="10.43" height="10.45" fill="#2e3424"/>
<rect x="310.57" y="174.95" width="10.43" height="10.45" fill="#3a3a2c"/>
<rect x="320.50" y="174.95" width="10.43" height="10.45" fill="#22341e"/>
<rect x="330.43" y="174.95" width="10.43" height="10.45" fill="#2a3a22"/>
<rect x="340.35" y="174.95" width="10.43" height="10.45" fill="#4a5638"/>
<rect x="350.27" y="174.95" width="10.43" height="10.45" fill="#4a5638"/>
<rect x="360.20" y="174.95" width="10.43" height="10.45" fill="#24341e"/>
<rect x="370.12" y="174.95" width="10.43" height="10.45" fill="#4a5638"/>
<rect x="380.05" y="174.95" width="10.43" height="10.45" fill="#2a3a22"/>
<rect x="389.98" y="174.95" width="22.43" height="10.45" fill="#24341e"/>
<rect x="229.10" y="184.90" width="22.43" height="10.45" fill="#22341c"/>
<rect x="251.03" y="184.90" width="10.43" height="10.45" fill="#3a3a30"/>
<rect x="260.95" y="184.90" width="10.43" height="10.45" fill="#5a5044"/>
<rect x="270.88" y="184.90" width="10.43" height="10.45" fill="#3e4262"/>
<rect x="280.80" y="184.90" width="10.43" height="10.45" fill="#3a3a2e"/>
<rect x="290.73" y="184.90" width="10.43" height="10.45" fill="#2e3424"/>
<rect x="300.65" y="184.90" width="10.43" height="10.45" fill="#3a3a2e"/>
<rect x="310.57" y="184.90" width="10.43" height="10.45" fill="#4a4238"/>
<rect x="320.50" y="184.90" width="10.43" height="10.45" fill="#1e2e1a"/>
<rect x="330.43" y="184.90" width="10.43" height="10.45" fill="#3e4a30"/>
<rect x="340.35" y="184.90" width="10.43" height="10.45" fill="#4a5638"/>
<rect x="350.27" y="184.90" width="10.43" height="10.45" fill="#4a5638"/>
<rect x="360.20" y="184.90" width="10.43" height="10.45" fill="#2a3a22"/>
<rect x="370.12" y="184.90" width="10.43" height="10.45" fill="#4a5638"/>
<rect x="380.05" y="184.90" width="10.43" height="10.45" fill="#2a3a22"/>
<rect x="389.98" y="184.90" width="22.43" height="10.45" fill="#24341e"/>
<rect x="229.10" y="194.85" width="22.43" height="10.45" fill="#3a3a2e"/>
<rect x="251.03" y="194.85" width="10.43" height="10.45" fill="#4a463c"/>
<rect x="260.95" y="194.85" width="10.43" height="10.45" fill="#3a3a2e"/>
<rect x="270.88" y="194.85" width="10.43" height="10.45" fill="#3a3a30"/>
<rect x="280.80" y="194.85" width="10.43" height="10.45" fill="#5a5044"/>
<rect x="290.73" y="194.85" width="10.43" height="10.45" fill="#4a4a40"/>
<rect x="300.65" y="194.85" width="10.43" height="10.45" fill="#5a5448"/>
<rect x="310.57" y="194.85" width="10.43" height="10.45" fill="#6a6058"/>
<rect x="320.50" y="194.85" width="10.43" height="10.45" fill="#1e2e1a"/>
<rect x="330.43" y="194.85" width="10.43" height="10.45" fill="#2a3a22"/>
<rect x="340.35" y="194.85" width="10.43" height="10.45" fill="#3e4a30"/>
<rect x="350.27" y="194.85" width="10.43" height="10.45" fill="#4a5638"/>
<rect x="360.20" y="194.85" width="10.43" height="10.45" fill="#3e4a30"/>
<rect x="370.12" y="194.85" width="10.43" height="10.45" fill="#3a3a2e"/>
<rect x="380.05" y="194.85" width="10.43" height="10.45" fill="#2a3a22"/>
<rect x="389.98" y="194.85" width="22.43" height="10.45" fill="#24341e"/>
<rect x="229.10" y="204.80" width="22.43" height="10.45" fill="#5a5044"/>
<rect x="251.03" y="204.80" width="10.43" height="10.45" fill="#6a6050"/>
<rect x="260.95" y="204.80" width="10.43" height="10.45" fill="#7a7060"/>
<rect x="270.88" y="204.80" width="10.43" height="10.45" fill="#3a3a2c"/>
<rect x="280.80" y="204.80" width="10.43" height="10.45" fill="#3a3a2e"/>
<rect x="290.73" y="204.80" width="10.43" height="10.45" fill="#4a4a40"/>
<rect x="300.65" y="204.80" width="10.43" height="10.45" fill="#3a3a2e"/>
<rect x="310.57" y="204.80" width="10.43" height="10.45" fill="#3a3a2e"/>
<rect x="320.50" y="204.80" width="10.43" height="10.45" fill="#1e2e1a"/>
<rect x="330.43" y="204.80" width="10.43" height="10.45" fill="#1e2e1a"/>
<rect x="340.35" y="204.80" width="10.43" height="10.45" fill="#24341e"/>
<rect x="350.27" y="204.80" width="10.43" height="10.45" fill="#2a3a22"/>
<rect x="360.20" y="204.80" width="10.43" height="10.45" fill="#2e3a26"/>
<rect x="370.12" y="204.80" width="10.43" height="10.45" fill="#4a4438"/>
<rect x="380.05" y="204.80" width="10.43" height="10.45" fill="#3a3a2e"/>
<rect x="389.98" y="204.80" width="22.43" height="10.45" fill="#24341e"/>
<rect x="229.10" y="214.75" width="22.43" height="22.45" fill="#5a4a3e"/>
<rect x="251.03" y="214.75" width="10.43" height="22.45" fill="#4a4034"/>
<rect x="260.95" y="214.75" width="10.43" height="22.45" fill="#4a4236"/>
<rect x="270.88" y="214.75" width="10.43" height="22.45" fill="#2a3022"/>
<rect x="280.80" y="214.75" width="10.43" height="22.45" fill="#3a3a2e"/>
<rect x="290.73" y="214.75" width="10.43" height="22.45" fill="#4a4438"/>
<rect x="300.65" y="214.75" width="10.43" height="22.45" fill="#3a3a2e"/>
<rect x="310.57" y="214.75" width="10.43" height="22.45" fill="#4a4438"/>
<rect x="320.50" y="214.75" width="10.43" height="22.45" fill="#1e2e1a"/>
<rect x="330.43" y="214.75" width="10.43" height="22.45" fill="#24341e"/>
<rect x="340.35" y="214.75" width="10.43" height="22.45" fill="#24341e"/>
<rect x="350.27" y="214.75" width="10.43" height="22.45" fill="#2e3a26"/>
<rect x="360.20" y="214.75" width="10.43" height="22.45" fill="#4a4236"/>
<rect x="370.12" y="214.75" width="10.43" height="22.45" fill="#5a5448"/>
<rect x="380.05" y="214.75" width="10.43" height="22.45" fill="#4a4438"/>
<rect x="389.98" y="214.75" width="22.43" height="22.45" fill="#24341e"/>
</g>
<g transform="translate(241,66)" filter="url(#soft2)" opacity="0.9">
<polygon points="83,1 96,3 94,14 80,12" fill="#e4e4e2"/>
<polygon points="43,48 58,49 57,63 42,62" fill="#ececf0"/>
<polygon points="72,34 77,35 77,40 72,39" fill="#dde0ee"/>
<polygon points="88,33 96,36 92,47 85,45" fill="#e6e6de"/>
<polygon points="67,57 82,59 81,69 66,67" fill="#d8d2e2"/>
<polygon points="125,41 135,42 135,49 125,48" fill="#d06080"/>
<polygon points="142,40 151,42 149,56 141,55" fill="#94bae8"/>
<polygon points="41,87 47,87 47,92 41,92" fill="#ececf4"/>
<polygon points="90,88 97,89 97,96 90,96" fill="#d4d4d4"/>
<polygon points="98,92 104,92 104,100 98,100" fill="#e2e2e2"/>
<polygon points="26,125 32,126 32,133 26,133" fill="#4454c4"/>
</g>

</g></g><!--/img2-->
<text x="127" y="243.5" text-anchor="middle">pre</text>
<text x="320.6" y="243.5" text-anchor="middle">post</text>
<text x="48.7" y="293.9" style="font-size:20.85px">Change detection</text>
<g id="img3"><filter id="bl3" x="-20%" y="-20%" width="140%" height="140%"><feGaussianBlur stdDeviation="5"/></filter>
<clipPath id="c3"><rect x="53" y="302" width="158" height="157"/></clipPath>
<g clip-path="url(#c3)"><g filter="url(#bl3)">
<rect x="41.00" y="290.00" width="32.25" height="32.12" fill="#6e6a5c"/>
<rect x="72.75" y="290.00" width="20.25" height="32.12" fill="#7a786c"/>
<rect x="92.50" y="290.00" width="20.25" height="32.12" fill="#5a5e60"/>
<rect x="112.25" y="290.00" width="20.25" height="32.12" fill="#a0a09a"/>
<rect x="132.00" y="290.00" width="20.25" height="32.12" fill="#9e9e9e"/>
<rect x="151.75" y="290.00" width="20.25" height="32.12" fill="#5e6264"/>
<rect x="171.50" y="290.00" width="20.25" height="32.12" fill="#7e7a6e"/>
<rect x="191.25" y="290.00" width="32.25" height="32.12" fill="#7a7668"/>
<rect x="41.00" y="321.62" width="32.25" height="20.12" fill="#7a786c"/>
<rect x="72.75" y="321.62" width="20.25" height="20.12" fill="#8e8e88"/>
<rect x="92.50" y="321.62" width="20.25" height="20.12" fill="#50545a"/>
<rect x="112.25" y="321.62" width="20.25" height="20.12" fill="#9a9a94"/>
<rect x="132.00" y="321.62" width="20.25" height="20.12" fill="#a0a0a2"/>
<rect x="151.75" y="321.62" width="20.25" height="20.12" fill="#9a9a96"/>
<rect x="171.50" y="321.62" width="20.25" height="20.12" fill="#807c70"/>
<rect x="191.25" y="321.62" width="32.25" height="20.12" fill="#7a766a"/>
<rect x="41.00" y="341.25" width="32.25" height="20.12" fill="#8a8a84"/>
<rect x="72.75" y="341.25" width="20.25" height="20.12" fill="#90908a"/>
<rect x="92.50" y="341.25" width="20.25" height="20.12" fill="#929290"/>
<rect x="112.25" y="341.25" width="20.25" height="20.12" fill="#4e5258"/>
<rect x="132.00" y="341.25" width="20.25" height="20.12" fill="#a0a09e"/>
<rect x="151.75" y="341.25" width="20.25" height="20.12" fill="#a8a8aa"/>
<rect x="171.50" y="341.25" width="20.25" height="20.12" fill="#a4a4a4"/>
<rect x="191.25" y="341.25" width="32.25" height="20.12" fill="#9e9ea0"/>
<rect x="41.00" y="360.88" width="32.25" height="20.12" fill="#8a8a86"/>
<rect x="72.75" y="360.88" width="20.25" height="20.12" fill="#8e8e8a"/>
<rect x="92.50" y="360.88" width="20.25" height="20.12" fill="#8a8a86"/>
<rect x="112.25" y="360.88" width="20.25" height="20.12" fill="#70747a"/>
<rect x="132.00" y="360.88" width="20.25" height="20.12" fill="#50545c"/>
<rect x="151.75" y="360.88" width="20.25" height="20.12" fill="#6a6e72"/>
<rect x="171.50" y="360.88" width="20.25" height="20.12" fill="#585c62"/>
<rect x="191.25" y="360.88" width="32.25" height="20.12" fill="#8e8e90"/>
<rect x="41.00" y="380.50" width="32.25" height="20.12" fill="#3a3a42"/>
<rect x="72.75" y="380.50" width="20.25" height="20.12" fill="#4a4a52"/>
<rect x="92.50" y="380.50" width="20.25" height="20.12" fill="#7a7a7a"/>
<rect x="112.25" y="380.50" width="20.25" height="20.12" fill="#8a8a88"/>
<rect x="132.00" y="380.50" width="20.25" height="20.12" fill="#8e8e8c"/>
<rect x="151.75" y="380.50" width="20.25" height="20.12" fill="#949492"/>
<rect x="171.50" y="380.50" width="20.25" height="20.12" fill="#5c6066"/>
<rect x="191.25" y="380.50" width="32.25" height="20.12" fill="#5a5e64"/>
<rect x="41.00" y="400.12" width="32.25" height="20.12" fill="#2e2e36"/>
<rect x="72.75" y="400.12" width="20.25" height="20.12" fill="#38383f"/>
<rect x="92.50" y="400.12" width="20.25" height="20.12" fill="#4a4a50"/>
<rect x="112.25" y="400.12" width="20.25" height="20.12" fill="#6a6a6c"/>
<rect x="132.00" y="400.12" width="20.25" height="20.12" fill="#828282"/>
<rect x="151.75" y="400.12" width="20.25" height="20.12" fill="#8a8a8a"/>
<rect x="171.50" y="400.12" width="20.25" height="20.12" fill="#929292"/>
<rect x="191.25" y="400.12" width="32.25" height="20.12" fill="#9a9a9a"/>
<rect x="41.00" y="419.75" width="32.25" height="20.12" fill="#5a5a60"/>
<rect x="72.75" y="419.75" width="20.25" height="20.12" fill="#4a4a52"/>
<rect x="92.50" y="419.75" width="20.25" height="20.12" fill="#5e5e64"/>
<rect x="112.25" y="419.75" width="20.25" height="20.12" fill="#606066"/>
<rect x="132.00" y="419.75" width="20.25" height="20.12" fill="#4a4a50"/>
<rect x="151.75" y="419.75" width="20.25" height="20.12" fill="#6a6a6e"/>
<rect x="171.50" y="419.75" width="20.25" height="20.12" fill="#7a7a7c"/>
<rect x="191.25" y="419.75" width="32.25" height="20.12" fill="#828284"/>
<rect x="41.00" y="439.38" width="32.25" height="32.12" fill="#5a5a62"/>
<rect x="72.75" y="439.38" width="20.25" height="32.12" fill="#5e5e66"/>
<rect x="92.50" y="439.38" width="20.25" height="32.12" fill="#5a5a62"/>
<rect x="112.25" y="439.38" width="20.25" height="32.12" fill="#5e5e64"/>
<rect x="132.00" y="439.38" width="20.25" height="32.12" fill="#5a5a60"/>
<rect x="151.75" y="439.38" width="20.25" height="32.12" fill="#62626a"/>
<rect x="171.50" y="439.38" width="20.25" height="32.12" fill="#6a6a70"/>
<rect x="191.25" y="439.38" width="32.25" height="32.12" fill="#727276"/>
</g>
<g transform="translate(53,303)" filter="url(#soft)">
<rect x="-2" y="-2" width="162" height="162" fill="#9b9a96"/>
<!-- top-left brownish textured corner -->
<polygon points="-2,-2 36,-2 30,20 20,42 -2,46" fill="#77725f"/>
<g stroke="#5e5a4c" stroke-width="1.6" fill="none" opacity="0.8">
<line x1="2" y1="30" x2="16" y2="-2"/><line x1="8" y1="36" x2="26" y2="-2"/><line x1="-2" y1="20" x2="8" y2="-2"/>
</g>
<!-- lots right of the curve -->
<polygon points="100,-2 160,-2 160,58 140,52 118,44 104,36 96,26 94,12" fill="#8a8575"/>
<g stroke="#6e6a5e" stroke-width="1.4" fill="none" opacity="0.8">
<line x1="128" y1="46" x2="142" y2="8"/><line x1="146" y1="53" x2="158" y2="22"/><line x1="120" y1="10" x2="158" y2="8"/>
</g>
<!-- light embankment band -->
<polygon points="-2,44 160,110 160,124 -2,60" fill="#9b9b99"/>
<line x1="-2" y1="44.5" x2="160" y2="110" stroke="#6e6a5a" stroke-width="1.2"/>
<!-- textured grey-brown band -->
<polygon points="-2,60 160,124 160,142 -2,84" fill="#85837b"/>
<line x1="-2" y1="62" x2="160" y2="126" stroke="#74726a" stroke-width="1"/>
<!-- lower dark/purple region -->
<path d="M-2,86 L32,94 L64,104 L95,115 L127,128 L160,138 L160,160 L-2,160 Z" fill="#555562"/>
<path d="M-2,86 L32,94 L64,104 L95,115 L127,128 L160,138" stroke="#3a3a40" stroke-width="2.5" fill="none"/>
<path d="M-2,85 L20,87 L40,94 L50,105 L40,114 L30,121 L10,124 L-2,124 Z" fill="#2b2b36"/>
<path d="M40,96 L70,106 L60,112 L42,112 Z" fill="#3e3e4a"/>
<path d="M24,124 L60,122 L80,132 L78,146 L40,146 L24,138 Z" fill="#646472"/>
<path d="M95,138 L160,142 L160,160 L95,160 Z" fill="#62626e"/>
<path d="M36,110 L67,113 L66,119 L40,117 Z" fill="#45454f"/>
<path d="M-2,126 L22,126 L22,158 L-2,158 Z" fill="#5e5e6c"/>
<path d="M-2,131 L20,133" stroke="#8a8a96" stroke-width="1.5"/>
<path d="M50,148 L90,150 L110,158 L50,160 Z" fill="#5a5a66"/>
<!-- road -->
<polygon points="88.3,-2 84.3,9.5 84.3,19 89,27 98.6,33.4 111.3,39.8 127.2,47.7 143,54.9 160,62 160,70 135.2,59.5 119.3,51.5 103.4,45 89,38.6 79.5,32 75.5,24 74,12.7 74,-2" fill="#a9a9ad"/>
<polyline points="88.6,-2 84.8,9.5 84.8,19 89.4,26.6 98.9,33 111.5,39.3 127.4,47.2 143.2,54.4 160,61.5" stroke="#c8c8c8" stroke-width="1.4" fill="none"/>
<!-- rim around H9 -->
<polygon points="90,6 100,-1 117,4 118,14 110,25 95,24 88,14" fill="#9c988a"/>
<!-- houses -->
<g fill="#464d55">
<polygon points="92,8 100,1 114.5,6.4 115.3,12.7 108,22.3 97,20.7 91.5,12.7"/>
<polygon points="39,-2 60,-2 59.6,8.7 40,8.7"/>
<polygon points="34.2,17.5 56.5,14.6 60.4,30.2 38.2,33.4"/>
<polygon points="50,38.2 60.4,32.6 74.8,42.9 64.4,55.7 52.5,49.3"/>
<polygon points="78,47.7 95.4,53.3 89,70 70,65.2"/>
<polygon points="95.4,56.5 113.7,60.4 111.3,75.5 93.8,70.8"/>
<polygon points="114.5,65.2 133.6,70 131,88 112,82"/>
<polygon points="134,73 151,77 149,97 130,92"/>
<polygon points="152,81 160,82 160,102 150,99"/>
</g>
<g stroke="#2a2e34" stroke-width="1.6" fill="none">
<polyline points="34.2,17.5 56.5,14.6"/>
<polyline points="52.5,49.3 50,38.2 60.4,32.6 74.8,42.9"/>
<polyline points="70,65.2 78,47.7 95.4,53.3"/>
<polyline points="93.8,70.8 95.4,56.5 113.7,60.4"/>
<polyline points="112,82 114.5,65.2 133.6,70"/>
<polyline points="130,92 134,73 151,77"/>
<polyline points="91.5,12.7 92,8 100,1"/>
</g>
<!-- white driveways / structures -->
<g fill="#bdbdb9">
<polygon points="59,1 72,1 72,12 68,20 60,18"/>
<polygon points="74,40 84,38 87,44 80,48"/>
<polygon points="88,43 96,46 95,53 86,50"/>
<polygon points="106,51 113,53 112,60 104,57"/>
<polygon points="124,58 131,60 131,67 122,64"/>
<polygon points="140,64 148,67 147,74 138,71"/>
<polygon points="101,22 108,24 104,30 98,28"/>
</g>
<polygon points="46,51.7 54,52.5 54,56.5 46,55.7" fill="#2e2e32"/>
</g>

</g></g><!--/img3-->
<g id="img4"><filter id="bl4" x="-20%" y="-20%" width="140%" height="140%"><feGaussianBlur stdDeviation="5"/></filter>
<clipPath id="c4"><rect x="241" y="302" width="158.3" height="158"/></clipPath>
<g clip-path="url(#c4)"><g filter="url(#bl4)">
<rect x="229.00" y="290.00" width="32.29" height="32.25" fill="#5a5448"/>
<rect x="260.79" y="290.00" width="20.29" height="32.25" fill="#6a6a66"/>
<rect x="280.57" y="290.00" width="20.29" height="32.25" fill="#6e6a60"/>
<rect x="300.36" y="290.00" width="20.29" height="32.25" fill="#8a8a88"/>
<rect x="320.15" y="290.00" width="20.29" height="32.25" fill="#909090"/>
<rect x="339.94" y="290.00" width="20.29" height="32.25" fill="#6a6a68"/>
<rect x="359.73" y="290.00" width="20.29" height="32.25" fill="#6e6c68"/>
<rect x="379.51" y="290.00" width="32.29" height="32.25" fill="#6a6458"/>
<rect x="229.00" y="321.75" width="32.29" height="20.25" fill="#6e6656"/>
<rect x="260.79" y="321.75" width="20.29" height="20.25" fill="#6c6c68"/>
<rect x="280.57" y="321.75" width="20.29" height="20.25" fill="#5a5a58"/>
<rect x="300.36" y="321.75" width="20.29" height="20.25" fill="#727270"/>
<rect x="320.15" y="321.75" width="20.29" height="20.25" fill="#8e8e8c"/>
<rect x="339.94" y="321.75" width="20.29" height="20.25" fill="#6a6a66"/>
<rect x="359.73" y="321.75" width="20.29" height="20.25" fill="#686864"/>
<rect x="379.51" y="321.75" width="32.29" height="20.25" fill="#5a5a56"/>
<rect x="229.00" y="341.50" width="32.29" height="20.25" fill="#74705e"/>
<rect x="260.79" y="341.50" width="20.29" height="20.25" fill="#6e6858"/>
<rect x="280.57" y="341.50" width="20.29" height="20.25" fill="#6a6a66"/>
<rect x="300.36" y="341.50" width="20.29" height="20.25" fill="#606060"/>
<rect x="320.15" y="341.50" width="20.29" height="20.25" fill="#6e6a60"/>
<rect x="339.94" y="341.50" width="20.29" height="20.25" fill="#8a8a88"/>
<rect x="359.73" y="341.50" width="20.29" height="20.25" fill="#8a8a8a"/>
<rect x="379.51" y="341.50" width="32.29" height="20.25" fill="#7a7a78"/>
<rect x="229.00" y="361.25" width="32.29" height="20.25" fill="#7e786a"/>
<rect x="260.79" y="361.25" width="20.29" height="20.25" fill="#807a6c"/>
<rect x="280.57" y="361.25" width="20.29" height="20.25" fill="#625c50"/>
<rect x="300.36" y="361.25" width="20.29" height="20.25" fill="#6e6e6a"/>
<rect x="320.15" y="361.25" width="20.29" height="20.25" fill="#6a6a66"/>
<rect x="339.94" y="361.25" width="20.29" height="20.25" fill="#6a6458"/>
<rect x="359.73" y="361.25" width="20.29" height="20.25" fill="#6e6e6a"/>
<rect x="379.51" y="361.25" width="32.29" height="20.25" fill="#727270"/>
<rect x="229.00" y="381.00" width="32.29" height="20.25" fill="#5a5448"/>
<rect x="260.79" y="381.00" width="20.29" height="20.25" fill="#6e6656"/>
<rect x="280.57" y="381.00" width="20.29" height="20.25" fill="#7c766a"/>
<rect x="300.36" y="381.00" width="20.29" height="20.25" fill="#807a6c"/>
<rect x="320.15" y="381.00" width="20.29" height="20.25" fill="#6a6456"/>
<rect x="339.94" y="381.00" width="20.29" height="20.25" fill="#6a6a66"/>
<rect x="359.73" y="381.00" width="20.29" height="20.25" fill="#6a6a68"/>
<rect x="379.51" y="381.00" width="32.29" height="20.25" fill="#6a6458"/>
<rect x="229.00" y="400.75" width="32.29" height="20.25" fill="#7a7a78"/>
<rect x="260.79" y="400.75" width="20.29" height="20.25" fill="#6a6a66"/>
<rect x="280.57" y="400.75" width="20.29" height="20.25" fill="#6e6858"/>
<rect x="300.36" y="400.75" width="20.29" height="20.25" fill="#6a6a66"/>
<rect x="320.15" y="400.75" width="20.29" height="20.25" fill="#7e786a"/>
<rect x="339.94" y="400.75" width="20.29" height="20.25" fill="#807a6c"/>
<rect x="359.73" y="400.75" width="20.29" height="20.25" fill="#6a6456"/>
<rect x="379.51" y="400.75" width="32.29" height="20.25" fill="#7a7466"/>
<rect x="229.00" y="420.50" width="32.29" height="20.25" fill="#8a8a88"/>
<rect x="260.79" y="420.50" width="20.29" height="20.25" fill="#6a6a68"/>
<rect x="280.57" y="420.50" width="20.29" height="20.25" fill="#626262"/>
<rect x="300.36" y="420.50" width="20.29" height="20.25" fill="#666664"/>
<rect x="320.15" y="420.50" width="20.29" height="20.25" fill="#6a6456"/>
<rect x="339.94" y="420.50" width="20.29" height="20.25" fill="#606060"/>
<rect x="359.73" y="420.50" width="20.29" height="20.25" fill="#6e6858"/>
<rect x="379.51" y="420.50" width="32.29" height="20.25" fill="#7a7466"/>
<rect x="229.00" y="440.25" width="32.29" height="32.25" fill="#8e8e8e"/>
<rect x="260.79" y="440.25" width="20.29" height="32.25" fill="#8a8a8a"/>
<rect x="280.57" y="440.25" width="20.29" height="32.25" fill="#7a7a78"/>
<rect x="300.36" y="440.25" width="20.29" height="32.25" fill="#646464"/>
<rect x="320.15" y="440.25" width="20.29" height="32.25" fill="#6a6458"/>
<rect x="339.94" y="440.25" width="20.29" height="32.25" fill="#606062"/>
<rect x="359.73" y="440.25" width="20.29" height="32.25" fill="#626262"/>
<rect x="379.51" y="440.25" width="32.29" height="32.25" fill="#6a6458"/>
</g>
<g transform="translate(241,303)" filter="url(#soft)">
<rect x="-2" y="-2" width="162" height="162" fill="#77705f"/>
<!-- open brown ground left -->
<polygon points="-2,-2 16,-2 15,9 38,9.5 38,-2 40,-2 31,15 31,32 28,42 38,61 30,84 -2,81" fill="#7a6f5c"/>
<polygon points="-2,-2 10,-2 2,12 -2,14" fill="#8a7862"/>
<g fill="#6a604f" opacity="0.7"><circle cx="8" cy="30" r="3"/><circle cx="18" cy="46" r="3"/><circle cx="6" cy="60" r="2.5"/><circle cx="22" cy="22" r="2.5"/></g>
<polygon points="16,0 37,0 37,9 15,9" fill="#77705c"/>
<polyline points="11,-2 3,12" stroke="#1e1c18" stroke-width="2" fill="none"/>
<polyline points="16,-2 15,9 37,9.5 38,-2" stroke="#1e1c18" stroke-width="1.8" fill="none"/>
<!-- lot region left-center -->
<polygon points="28,42 52,40 76,48 72,66 56,70 38,61" fill="#7c7666"/>
<polyline points="27,43 37.4,61 55,70 72,66" stroke="#1e1c18" stroke-width="1.8" fill="none"/>
<!-- diagonal band -->
<polygon points="-2,57 38,62 80,80 158,114.6 160,142 110,121 78,108 30,84.4 -2,81" fill="#8b8473"/>
<line x1="-2" y1="58" x2="160" y2="132.5" stroke="#d0c9b2" stroke-width="1.6" stroke-dasharray="1.6 2.4"/>
<polyline points="-2,81 30,84.4 80,105 110,121 160,142" stroke="#1c1b18" stroke-width="2.2" fill="none"/>
<polyline points="55,70 78,82.8 102,90.7 125.7,100 160,115" stroke="#1c1b18" stroke-width="2" fill="none"/>
<!-- road (top curve) -->
<polygon points="84,-2 158,-2 158,52 126,43 102,33.4 88,27 82,16" fill="#7a705e"/>
<path d="M77.5,-3 L77,14 Q79,28 92,35 Q104,41 120,46 L160,61" stroke="#a0a0a0" stroke-width="11" fill="none"/>
<path d="M83,-3 L82,12 Q83,24 94,30 Q104,35 120,40 L160,55" stroke="#c2b88c" stroke-width="1.3" fill="none"/>
<!-- houses above road (right) -->
<g fill="#6f6f6d">
<polygon points="92,3 116,3 118,19 96,21"/>
<polygon points="112,10 137,10 138,35 114,35"/>
<polygon points="131,17 154,16 156,42 134,43"/>
<polygon points="126,-2 158,-2 158,10 128,11"/>
</g>
<g stroke="#1c1b18" stroke-width="1.7" fill="none" opacity="0.9">
<line x1="121" y1="-2" x2="110" y2="24"/><line x1="142" y1="5" x2="129" y2="36"/><line x1="159" y1="22" x2="148" y2="48"/>
</g>
<polygon points="94,21 104,22 105,31 96,31" fill="#c8c2a2"/>
<polygon points="107,26 114,27 114,35 107,34" fill="#c8c2a2"/>
<!-- houses left of road top -->
<g fill="#777775">
<polygon points="31,15 54,13.5 60,25 55.6,36.6 38,38 31,32"/>
<polygon points="39,-2 60,-2 60,8 39,8"/>
</g>
<polyline points="31,33 31,15 54,13.5" stroke="#1e1e1c" stroke-width="1.8" fill="none"/>
<polygon points="56,-2 72,-2 72,18 60,20" fill="#bdbdb6"/>
<polygon points="46,31 62,32 60,40 47,40" fill="#1c1c1c"/>
<polygon points="50,38 74,41 76,57 53,60" fill="#787876"/>
<polygon points="24,30 33,31 34,40 26,39" fill="#b0a890"/>
<!-- houses below road -->
<g fill="#6e6e6c">
<polygon points="78,46 95,48 96,71 78,69"/>
<polygon points="95,54 117,58 118,80 94,77"/>
<polygon points="115,60 137,64 138,82 114,80"/>
<polygon points="139,62 158,66 158,88 138,84"/>
</g>
<g stroke="#1c1b18" stroke-width="1.7" fill="none" opacity="0.9">
<line x1="102" y1="51" x2="86" y2="80"/><line x1="119" y1="62" x2="110" y2="82"/><line x1="141" y1="64" x2="132" y2="86"/>
<line x1="73" y1="47" x2="67" y2="66"/>
<line x1="105" y1="78" x2="100" y2="90.7"/><line x1="132" y1="78" x2="121" y2="98.7"/><line x1="152" y1="84" x2="145" y2="104"/>
</g>
<polygon points="125.7,80 151,84 148,98.7 124,96" fill="#767674"/>
<!-- lower region -->
<polygon points="-2,98.7 17.5,98.7 17.5,108 -2,108" fill="#1c1c1e"/>
<polyline points="30,84.4 27.8,122.5" stroke="#1c1b18" stroke-width="2" fill="none"/>
<polyline points="62,102 47.7,129" stroke="#1c1b18" stroke-width="2" fill="none"/>
<polyline points="82,110 70,138" stroke="#1c1b18" stroke-width="2" fill="none"/>
<polyline points="102,121 87.5,158" stroke="#1c1b18" stroke-width="2" fill="none"/>
<polyline points="124,129 110,158" stroke="#1c1b18" stroke-width="2" fill="none"/>
<polyline points="144.8,138 135,158" stroke="#1c1b18" stroke-width="2" fill="none"/>
<polygon points="81,113 103,116 100,127 80,124" fill="#8a7c66"/>
<g fill="#6a6a6a">
<polygon points="1.6,108 24,108 24,125.7 1.6,125.7"/>
<polygon points="30,106 49,106 49,124 30,124"/>
<polygon points="50,112 73,114 73,135 49,133"/>
<polygon points="78,125 96,127 97,148 78,146"/>
<polygon points="95,134 116,136 116,158 94,158"/>
<polygon points="119,139 141.6,141 141.6,158 119,158"/>
<polygon points="142,146 158,148 158,158 142,158"/>
</g>
<polygon points="28.6,102 48,102 48,109 28.6,109" fill="#1e1e20"/>
<g fill="#d4d4cc">
<polygon points="14.3,119 22,119 22,130.5 14.3,130.5"/>
<polygon points="33.4,124 43,124 43,137 33.4,137"/>
<polygon points="52.5,132 60.4,132 60.4,145 52.5,145"/>
<polygon points="110,129 118,129 118,138 110,138"/>
</g>
<path d="M-3,148 Q16,141 40,143.5 Q56,146 82,160" stroke="#a0a0a2" stroke-width="11" fill="none"/>
<path d="M-3,142 Q16,136 40,138.4 Q58,141 80,153" stroke="#cfcfca" stroke-width="1.3" fill="none"/>
</g>

</g></g><!--/img4-->
<text x="127" y="479" text-anchor="middle">pre</text>
<text x="320.9" y="479" text-anchor="middle">post</text>
<rect x="430" y="36" width="2" height="466" fill="#6a6a6a"/>
<!-- panel (b) -->
<text x="451.9" y="29.7" style="font-size:22px;letter-spacing:1.1px">(b)</text>
<g stroke="#e0e0e0" stroke-width="1" shape-rendering="crispEdges">
<line x1="615" x2="1292" y1="86.5" y2="86.5"/>
<line x1="615" x2="1292" y1="110.5" y2="110.5"/>
<line x1="615" x2="1292" y1="134.5" y2="134.5"/>
<line x1="615" x2="1292" y1="159.5" y2="159.5"/>
<line x1="615" x2="1292" y1="183.5" y2="183.5"/>
<line x1="615" x2="1292" y1="207.5" y2="207.5"/>
<line x1="615" x2="1292" y1="232.5" y2="232.5"/>
<line x1="615" x2="1292" y1="256.5" y2="256.5"/>
<line x1="615" x2="1292" y1="280.5" y2="280.5"/>
<line x1="615" x2="1292" y1="305.5" y2="305.5"/>
<line x1="615" x2="1292" y1="329.5" y2="329.5"/>
<line x1="615" x2="1292" y1="353.5" y2="353.5"/>
<line x1="615" x2="1292" y1="378.5" y2="378.5"/>
</g>
<!-- areas -->
<polygon points="700,98.6 868.5,367.2 1037.9,373.5 1207,371.9 1207,402.5 700,402.5" fill="#5b9bd5" fill-opacity="0.66"/>
<polygon points="700,359.8 868.5,397.4 1037.9,397.8 1207,402 1207,402.5 700,402.5" fill="#e97432"/>
<!-- table -->
<g stroke="#e6e6e6" stroke-width="1" shape-rendering="crispEdges" fill="none">
<line x1="615" x2="1292" y1="402.5" y2="402.5"/>
<line x1="465" x2="1292" y1="431.5" y2="431.5"/>
<line x1="465" x2="1292" y1="457.5" y2="457.5"/>
<line x1="465" x2="1292" y1="483.5" y2="483.5"/>
<line x1="465.5" x2="465.5" y1="431" y2="484"/>
<line x1="615.5" x2="615.5" y1="402" y2="484"/>
<line x1="784.5" x2="784.5" y1="402" y2="484"/>
<line x1="953.5" x2="953.5" y1="402" y2="484"/>
<line x1="1122.5" x2="1122.5" y1="402" y2="484"/>
<line x1="1291.5" x2="1291.5" y1="402" y2="484"/>
</g>
<rect x="471" y="439.6" width="10.5" height="10.2" fill="#5b9bd5" fill-opacity="0.66"/>
<rect x="471" y="465.2" width="10.5" height="10.5" fill="#e97432"/>
<g text-anchor="end">
<text x="597.2" y="93.0">325000</text>
<text x="597.2" y="117.31">300000</text>
<text x="597.2" y="141.62">275000</text>
<text x="597.2" y="165.93">250000</text>
<text x="597.2" y="190.24">225000</text>
<text x="597.2" y="214.55">200000</text>
<text x="597.2" y="238.86">175000</text>
<text x="597.2" y="263.17">150000</text>
<text x="597.2" y="287.48">125000</text>
<text x="597.2" y="311.79">100000</text>
<text x="597.2" y="336.1">75000</text>
<text x="597.2" y="360.41">50000</text>
<text x="597.2" y="384.72">25000</text>
<text x="597.2" y="409.03">0</text>
</g>
<g text-anchor="middle">
<text x="697.4" y="423.6">No-damage</text>
<text x="869" y="423.6">Minor-damage</text>
<text x="1038" y="423.6">Major-damage</text>
<text x="1207" y="423.6">Destroyed</text>
<text x="700" y="451">313033</text>
<text x="869" y="451">36860</text>
<text x="1038" y="451">29904</text>
<text x="1207" y="451">31560</text>
<text x="700" y="477">44044</text>
<text x="869" y="477">5380</text>
<text x="1038" y="477">4914</text>
<text x="1207" y="477">667</text>
</g>
<text x="486.5" y="451">xBD dataset</text>
<text x="486.4" y="477">Flood dataset</text>
</svg>
</body></html>
